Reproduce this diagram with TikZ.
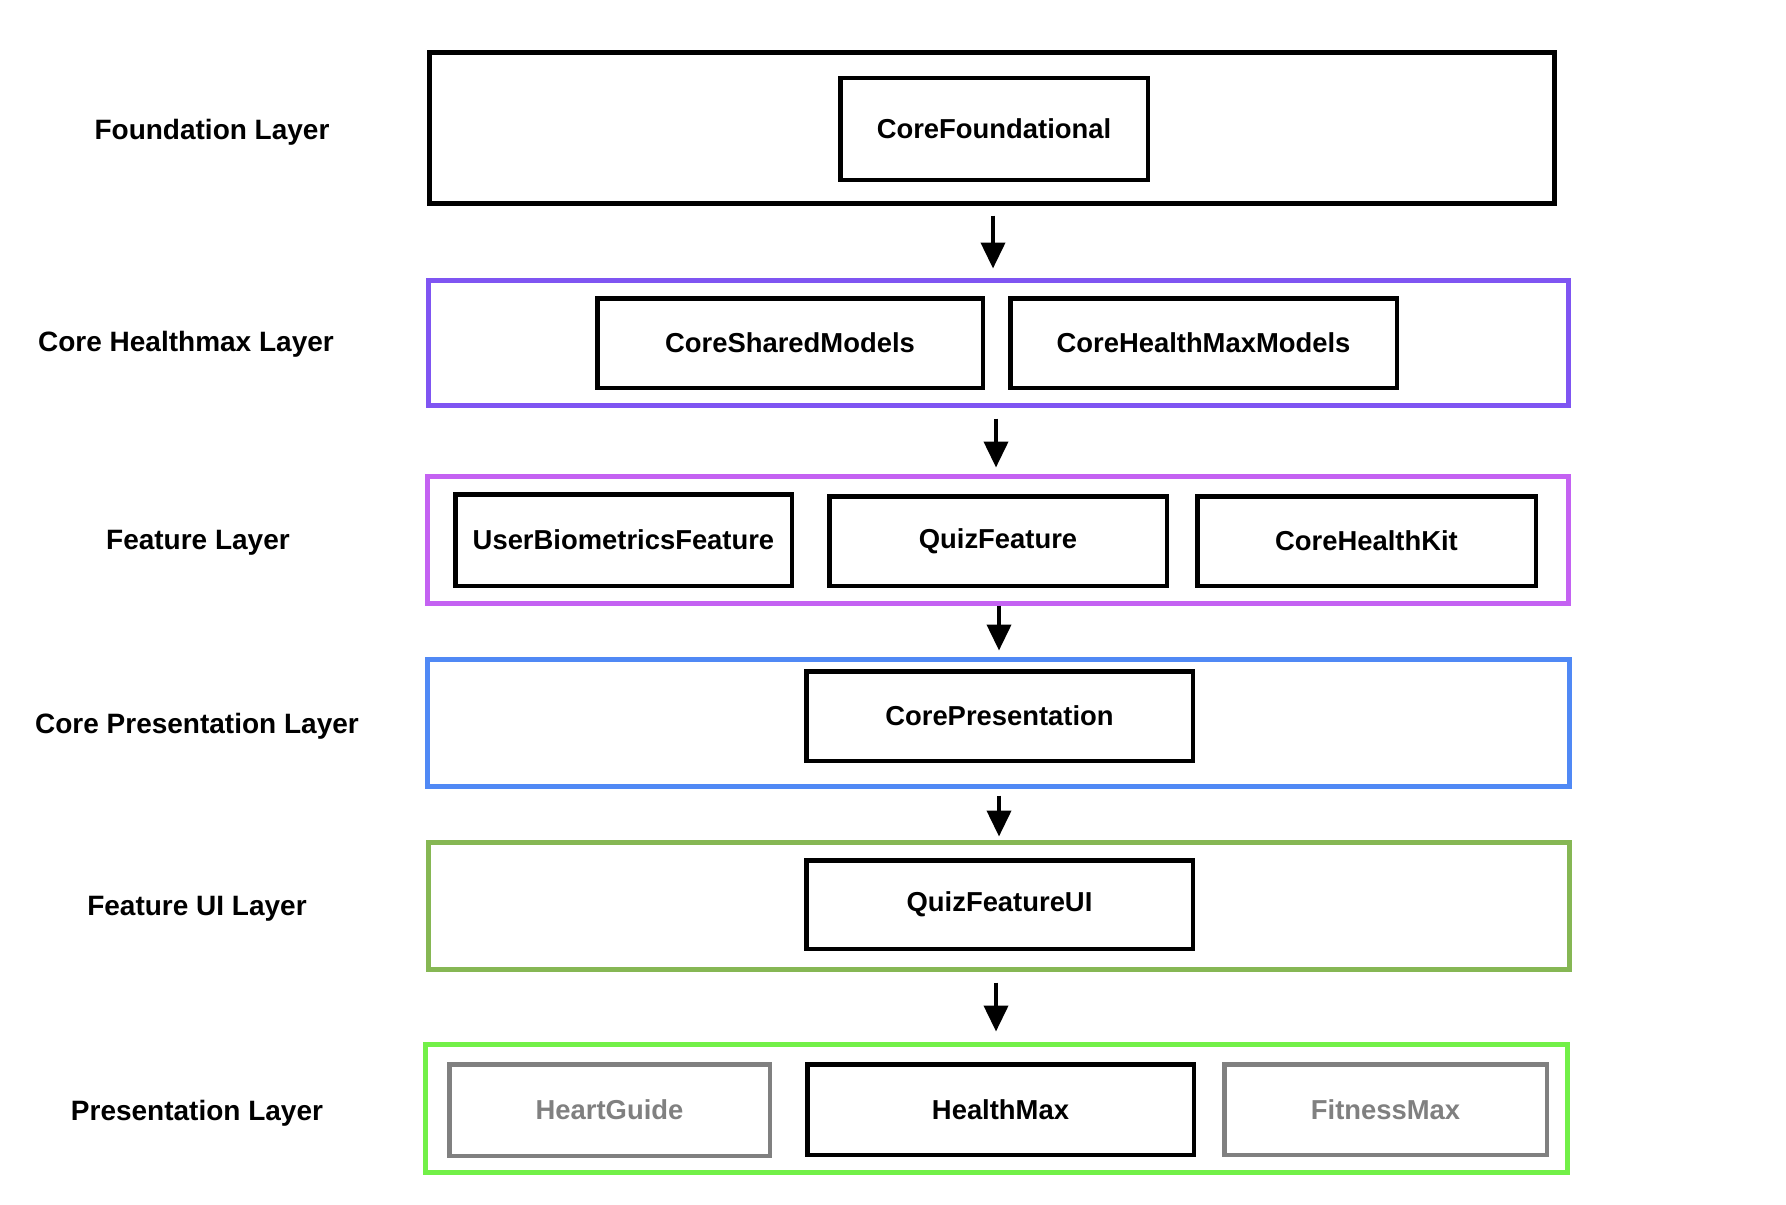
\documentclass[tikz,border=0pt]{standalone}
\usepackage{fontspec}
\setmainfont{Liberation Sans}
\usetikzlibrary{arrows.meta}
\definecolor{hmpurple}{HTML}{7F55F2}
\definecolor{ftviolet}{HTML}{C462F2}
\definecolor{cpblue}{HTML}{5089F5}
\definecolor{uigreen}{HTML}{86B754}
\definecolor{prgreen}{HTML}{72F048}
\definecolor{appgray}{HTML}{808080}
% outer layer box: name, x1, y1, x2, y2, style
\newcommand\layerbox[6]{\node[layer,#6,minimum width={(#4-#2-5)*0.5pt},minimum height={(#5-#3-5)*0.5pt}] (#1) at ({(#2+#4)/2},{(#3+#5)/2}) {};}
% inner module box: name, x1, y1, x2, y2, style, text
\newcommand\modbox[7]{\node[module,#6,minimum width={(#4-#2-4.5)*0.5pt},minimum height={(#5-#3-4.5)*0.5pt}] (#1) at ({(#2+#4)/2},{(#3+#5)/2}) {#7};}
\tikzset{
  layer/.style={draw,line width=2.5pt,inner sep=0pt,outer sep=0pt},
  module/.style={draw=black,line width=2.25pt,inner sep=0pt,outer sep=0pt,font=\fontsize{13.7pt}{16pt}\selectfont\bfseries,text=black},
  greyed/.style={draw=appgray,text=appgray},
  layerlabel/.style={inner sep=0pt,font=\fontsize{14pt}{16pt}\selectfont\bfseries},
  dep/.style={-{Triangle[width=12pt,length=13pt]},line width=2pt}
}
\begin{document}
\begin{tikzpicture}[x=0.5pt,y=-0.5pt]
\useasboundingbox (0,0) rectangle (1786,1204);
% layers
\layerbox{found}{427}{50}{1557}{206}{draw=black}
\layerbox{corehm}{426}{278}{1571}{408}{draw=hmpurple}
\layerbox{feat}{425}{474}{1571}{606}{draw=ftviolet}
\layerbox{corepres}{425}{657}{1572}{789}{draw=cpblue}
\layerbox{featui}{426}{840}{1572}{972}{draw=uigreen}
\layerbox{pres}{423}{1042}{1570}{1175}{draw=prgreen}
% modules
\modbox{cf}{838}{76}{1150}{182}{}{CoreFoundational}
\modbox{csm}{595}{296}{985}{390}{}{CoreSharedModels}
\modbox{chmm}{1008}{296}{1399}{390}{}{CoreHealthMaxModels}
\modbox{ubf}{453}{492}{794}{588}{}{UserBiometricsFeature}
\modbox{qf}{827}{494}{1169}{588}{}{QuizFeature}
\modbox{chk}{1195}{494}{1538}{588}{}{CoreHealthKit}
\modbox{cp}{804}{669}{1195}{763}{}{CorePresentation}
\modbox{qfui}{804}{858}{1195}{951}{}{QuizFeatureUI}
\modbox{hg}{447}{1062}{772}{1158}{greyed}{HeartGuide}
\modbox{hm}{805}{1062}{1196}{1157}{}{HealthMax}
\modbox{fm}{1222}{1062}{1549}{1157}{greyed}{FitnessMax}
% layer labels
\node[layerlabel] (lfound) at (212,132) {Foundation Layer};
\node[layerlabel] (lcorehm) at (186,344) {Core Healthmax Layer};
\node[layerlabel] (lfeat) at (198,543) {Feature Layer};
\node[layerlabel] (lcorepres) at (197,726) {Core Presentation Layer};
\node[layerlabel] (lfeatui) at (197,909) {Feature UI Layer};
\node[layerlabel] (lpres) at (197,1113) {Presentation Layer};
% arrow columns
\coordinate (c1) at (993,0);
\coordinate (c2) at (996,0);
\coordinate (c3) at (999,0);
\coordinate (c4) at (999,0);
\coordinate (c5) at (996,0);
\draw[dep,shorten <=6pt,shorten >=6pt] (found.south -| c1) -- (corehm.north -| c1);
\draw[dep,shorten <=6.5pt,shorten >=4.5pt] (corehm.south -| c2) -- (feat.north -| c2);
\draw[dep,shorten <=1pt,shorten >=4.5pt] (feat.south -| c3) -- (corepres.north -| c3);
\draw[dep,shorten <=4.5pt,shorten >=3pt] (corepres.south -| c4) -- (featui.north -| c4);
\draw[dep,shorten <=6.5pt,shorten >=6.5pt] (featui.south -| c5) -- (pres.north -| c5);
\end{tikzpicture}
\end{document}
